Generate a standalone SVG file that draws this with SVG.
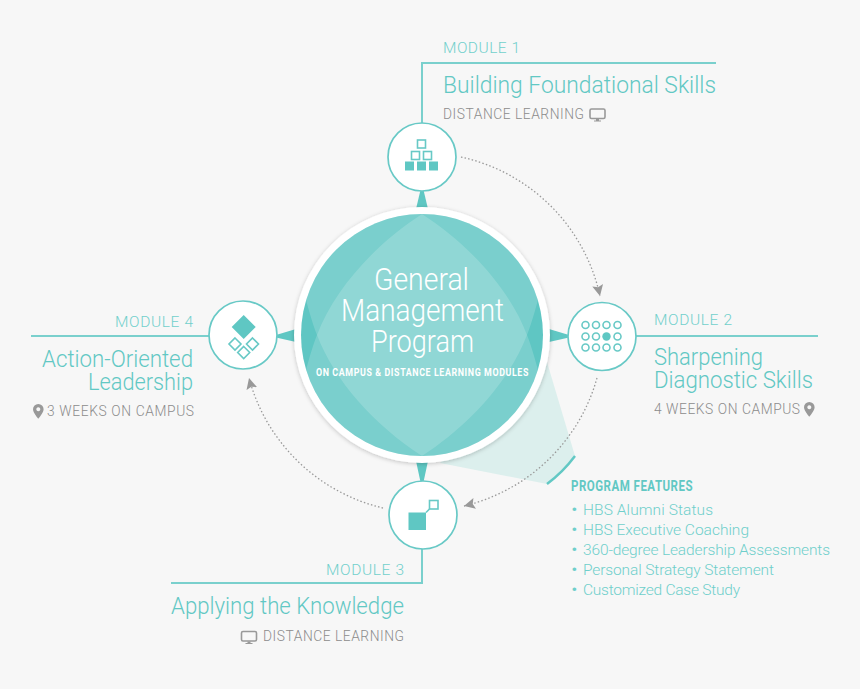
<svg xmlns="http://www.w3.org/2000/svg" width="860" height="689" viewBox="0 0 860 689">
<style>
text{font-family:"Roboto","Liberation Sans",sans-serif;font-weight:300}
.mod{font-size:15.500px;fill:#72d0cc}
.ttl{font-size:24px;fill:#62c8c4}
.sub{font-size:13.800px;fill:#8c8c8c}
.li{font-size:15.500px;fill:#6fcfcb}
.hd{font-size:31px;fill:#fff}
.ln{fill:none;stroke:#7ad0cd;stroke-width:2}
.node{fill:#fff;stroke:#68c9c6;stroke-width:1.700}
.o{fill:none;stroke:#68c9c6;stroke-width:1.600}
.f{fill:#5fc7c3}
.dot{fill:none;stroke:#999;stroke-width:1.300;stroke-dasharray:1.500 2.200}
.gi{fill:none;stroke:#999;stroke-width:1.600}
.gf{fill:#999}
</style>
<defs>
<marker id="arr" markerUnits="userSpaceOnUse" markerWidth="13" markerHeight="13" refX="11" refY="5.500" orient="auto"><path d="M0,0L11,5.500L0,11L2,5.500Z" fill="#999"/></marker>
<clipPath id="cc"><circle cx="422" cy="335" r="121"/></clipPath>
<filter id="sh" x="-10%" y="-10%" width="120%" height="120%"><feDropShadow dx="0" dy="1" stdDeviation="2" flood-color="#000" flood-opacity=".22"/></filter>
</defs>
<rect width="860" height="689" fill="#f7f7f7"/>
<path d="M544,352L575,456L547,484L440,463Z" fill="#dcefed"/>
<path d="M547,484Q563,472 575,456" fill="none" stroke="#62c8c4" stroke-width="2.500"/>
<g id="connectors">
<path class="ln" d="M422,124V63H716"/>
<path class="ln" d="M636,336H818"/>
<path class="ln" d="M209,336H31"/>
<path class="ln" d="M422,549V583H171"/>
<path class="dot" d="M461,157A182,182 0 0 1 600,296" marker-end="url(#arr)"/>
<path class="dot" d="M597,378A182,182 0 0 1 464,506" marker-end="url(#arr)"/>
<path class="dot" d="M383,508A182,182 0 0 1 249,378" marker-end="url(#arr)"/>
<path class="f" d="M420.500,190H423.500L428,209H416Z"/>
<path class="f" d="M569,335V337.500L549,342V329Z"/>
<path class="f" d="M276,335V337.500L296,342V329Z"/>
<path class="f" d="M420.500,482H423.500L428,461H416Z"/>
</g>
<g id="hub">
<circle cx="422" cy="335" r="128" fill="#fff" filter="url(#sh)"/>
<g clip-path="url(#cc)">
<rect x="300" y="213" width="244" height="244" fill="#5fc6c3"/>
<path d="M422,214C470,245 510,290 527,335C533,350 538,370 546,400L546,460H298L298,400C306,370 311,350 317,335C334,290 374,245 422,214Z" fill="#fff" fill-opacity=".17"/>
<path d="M422,456C470,425 510,380 527,335C533,320 538,300 546,270L546,210H298L298,270C306,300 311,320 317,335C334,380 374,425 422,456Z" fill="#fff" fill-opacity=".17"/>
</g>
<text class="hd" x="374" y="289.500" textLength="95" lengthAdjust="spacingAndGlyphs">General</text>
<text class="hd" x="341" y="320.500" textLength="163" lengthAdjust="spacingAndGlyphs">Management</text>
<text class="hd" x="371" y="351.500" textLength="103" lengthAdjust="spacingAndGlyphs">Program</text>
<text x="316" y="376" textLength="213" lengthAdjust="spacingAndGlyphs" style="font-size:11.500px;font-weight:700;fill:#fff;letter-spacing:.8px">ON CAMPUS &amp; DISTANCE LEARNING MODULES</text>
</g>
<g id="module1">
<circle class="node" cx="422" cy="157" r="34"/>
<rect class="o" x="417.500" y="140" width="8" height="8"/>
<rect class="o" x="411.500" y="151.500" width="8" height="8"/>
<rect class="o" x="423.500" y="151.500" width="8" height="8"/>
<rect class="f" x="405" y="161.500" width="9" height="9"/>
<rect class="f" x="417" y="161.500" width="9" height="9"/>
<rect class="f" x="429" y="161.500" width="9" height="9"/>
<text class="mod" x="443" y="52.500" textLength="77">MODULE 1</text>
<text class="ttl" x="443" y="92.500" textLength="273" lengthAdjust="spacingAndGlyphs">Building Foundational Skills</text>
<text class="sub" x="443" y="119" textLength="141">DISTANCE LEARNING</text>
<rect class="gi" x="590" y="109" width="15" height="9.500" rx="1.500"/>
<path class="gf" d="M596,119H599V120.500H601V121.500H594V120.500H596Z"/>
</g>
<g id="module2">
<circle class="node" cx="602" cy="336.500" r="34"/>
<g class="o">
<circle cx="585.500" cy="325" r="3.500"/><circle cx="596" cy="325" r="3.500"/><circle cx="606.500" cy="325" r="3.500"/><circle cx="617.500" cy="325" r="3.500"/>
<circle cx="585.500" cy="336.500" r="3.500"/><circle cx="596" cy="336.500" r="3.500"/><circle cx="617.500" cy="336.500" r="3.500"/>
<circle cx="585.500" cy="347.500" r="3.500"/><circle cx="596" cy="347.500" r="3.500"/><circle cx="606.500" cy="347.500" r="3.500"/><circle cx="617.500" cy="347.500" r="3.500"/>
</g>
<circle class="f" cx="606.500" cy="336.500" r="4.200"/>
<text class="mod" x="654" y="324.500" textLength="78">MODULE 2</text>
<text class="ttl" x="654" y="365" textLength="109" lengthAdjust="spacingAndGlyphs">Sharpening</text>
<text class="ttl" x="654" y="388" textLength="159" lengthAdjust="spacingAndGlyphs">Diagnostic Skills</text>
<text class="sub" x="654" y="414" textLength="146">4 WEEKS ON CAMPUS</text>
<path class="gf" fill-rule="evenodd" d="M809.300,402a5.300,5.300 0 0 1 5.300,5.300c0,3.500 -5.300,9.500 -5.300,9.500s-5.300,-6 -5.300,-9.500a5.300,5.300 0 0 1 5.300,-5.300Zm0,3.300a2,2 0 1 0 .01,0Z"/>
</g>
<g id="module3">
<circle class="node" cx="423" cy="515" r="34"/>
<rect class="f" x="408.500" y="512.500" width="17.500" height="17.500"/>
<rect class="o" x="429.500" y="500.500" width="8.500" height="8.500"/>
<path class="o" d="M426,512.500L429.500,509"/>
<text class="mod" x="326" y="574.500" textLength="78">MODULE 3</text>
<text class="ttl" x="171" y="613.500" textLength="233" lengthAdjust="spacingAndGlyphs">Applying the Knowledge</text>
<text class="sub" x="263" y="641" textLength="141">DISTANCE LEARNING</text>
<rect class="gi" x="241.500" y="631.500" width="15" height="9.500" rx="1.500"/>
<path class="gf" d="M247.500,641.500H250.500V643H252.500V644H245.500V643H247.500Z"/>
</g>
<g id="module4">
<circle class="node" cx="243" cy="335" r="34"/>
<path class="f" d="M243.700,315L255.700,327L243.700,339L231.700,327Z"/>
<path class="o" d="M235,338L241,344L235,350L229,344Z"/>
<path class="o" d="M252.500,338L258.500,344L252.500,350L246.500,344Z"/>
<path class="o" d="M243.700,346.500L249.700,352.500L243.700,358.500L237.700,352.500Z"/>
<text class="mod" x="115" y="326.500" textLength="78">MODULE 4</text>
<text class="ttl" x="42" y="366.500" textLength="151" lengthAdjust="spacingAndGlyphs">Action-Oriented</text>
<text class="ttl" x="88" y="389.500" textLength="105" lengthAdjust="spacingAndGlyphs">Leadership</text>
<text class="sub" x="47" y="416" textLength="147">3 WEEKS ON CAMPUS</text>
<path class="gf" fill-rule="evenodd" d="M38.300,404a5.300,5.300 0 0 1 5.300,5.300c0,3.500 -5.300,9.500 -5.300,9.500s-5.300,-6 -5.300,-9.500a5.300,5.300 0 0 1 5.300,-5.300Zm0,3.300a2,2 0 1 0 .01,0Z"/>
</g>
<g id="features">
<text x="571" y="491" textLength="122" lengthAdjust="spacingAndGlyphs" style="font-size:14px;font-weight:700;fill:#62c8c4;letter-spacing:.6px">PROGRAM FEATURES</text>
<text class="li" y="514.500"><tspan x="571.500" font-weight="700">•</tspan><tspan x="583" textLength="130">HBS Alumni Status</tspan></text>
<text class="li" y="534.500"><tspan x="571.500" font-weight="700">•</tspan><tspan x="583" textLength="166">HBS Executive Coaching</tspan></text>
<text class="li" y="554.500"><tspan x="571.500" font-weight="700">•</tspan><tspan x="583" textLength="247">360-degree Leadership Assessments</tspan></text>
<text class="li" y="574.500"><tspan x="571.500" font-weight="700">•</tspan><tspan x="583" textLength="191">Personal Strategy Statement</tspan></text>
<text class="li" y="594.500"><tspan x="571.500" font-weight="700">•</tspan><tspan x="583" textLength="157">Customized Case Study</tspan></text>
</g>
</svg>
